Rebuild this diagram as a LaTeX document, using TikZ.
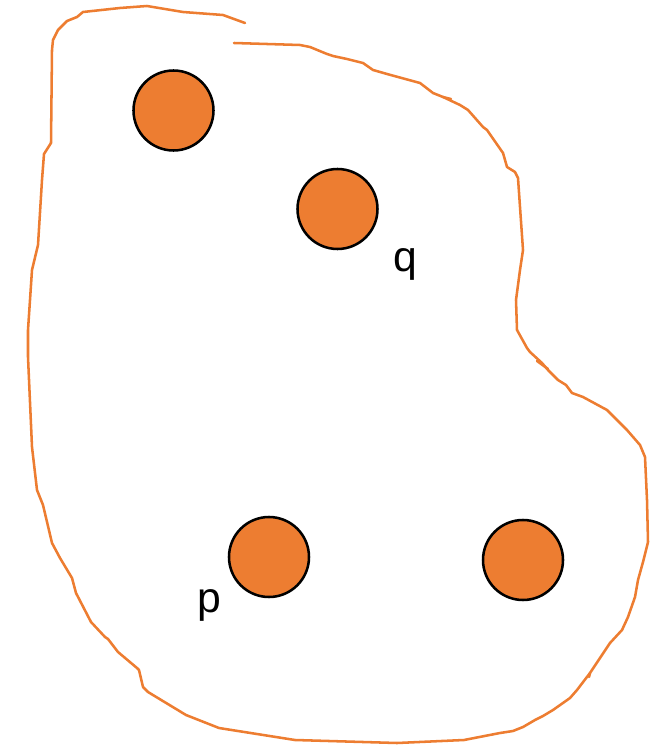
\documentclass[tikz,border=0pt]{standalone}
\usepackage{fontspec}
\setmainfont{Liberation Sans}
\begin{document}
\definecolor{blobline}{HTML}{ED7D31}
\definecolor{dotfill}{HTML}{ED7D31}
\begin{tikzpicture}[x=0.75pt,y=-0.75pt,
  outline/.style={draw=blobline,line width=1.9pt,line join=round,line cap=round},
  dot/.style={circle,draw=black,fill=dotfill,line width=1.9pt,minimum size=80*0.75pt,inner sep=0pt},
  lbl/.style={font=\fontsize{32}{38}\selectfont,inner sep=0pt,anchor=base}]
\useasboundingbox (0,0) rectangle (661,745);

% hand-drawn region boundary (open at the top)
\draw[outline] (245,23) -- (223,15) -- (183,12) -- (147,6) -- (120,8) -- (83,12)
  -- (77,17) -- (67,21) -- (58,30) -- (53,40) -- (52,50) -- (51,143) -- (44,154)
  -- (42,180) -- (38,245) -- (32,270) -- (28,330) -- (28,357) -- (32,447)
  -- (37,490) -- (43,505) -- (52,543) -- (60,558) -- (72,578) -- (76,593)
  -- (91,622) -- (105,637) -- (108,639) -- (118,652) -- (137,668) -- (139,670)
  -- (143,687) -- (148,692) -- (186,715) -- (219,728) -- (295,740) -- (397,743)
  -- (464,740) -- (500,733) -- (513,731) -- (523,727) -- (535,720) -- (543,716)
  -- (553,710) -- (570,698) -- (577,690) -- (590,673) -- (610,643) -- (622,630)
  -- (628,617) -- (635,597) -- (638,580) -- (643,562) -- (648,542) -- (647,500)
  -- (645,457) -- (640,445) -- (627,430) -- (607,410) -- (583,397) -- (572,393)
  -- (566,385) -- (558,380) -- (548,370) -- (542,363) -- (530,352) -- (527,348)
  -- (517,330) -- (516,300) -- (520,270) -- (523,250) -- (520,207) -- (518,178)
  -- (515,172) -- (507,167) -- (503,153) -- (487,130) -- (483,127) -- (468,110)
  -- (460,105) -- (443,97) -- (433,93) -- (420,83) -- (387,74) -- (373,70)
  -- (363,63) -- (347,59) -- (333,56) -- (327,54) -- (310,47) -- (300,45) -- (234,43);
% small pen strokes along the boundary
\draw[outline] (537,361) -- (548,369);
\draw[outline] (443,97) -- (451,99);
\draw[outline] (590,673) -- (589,677);

% points
\node[dot] (a) at (173.5,110.5) {};
\node[dot] (q) at (337.5,209) {};
\node[dot] (p) at (269,557) {};
\node[dot] (b) at (523,560) {};

% labels
\node[lbl] (ql) at (405,271) {q};
\node[lbl] (pl) at (209,612) {p};
\end{tikzpicture}
\end{document}
